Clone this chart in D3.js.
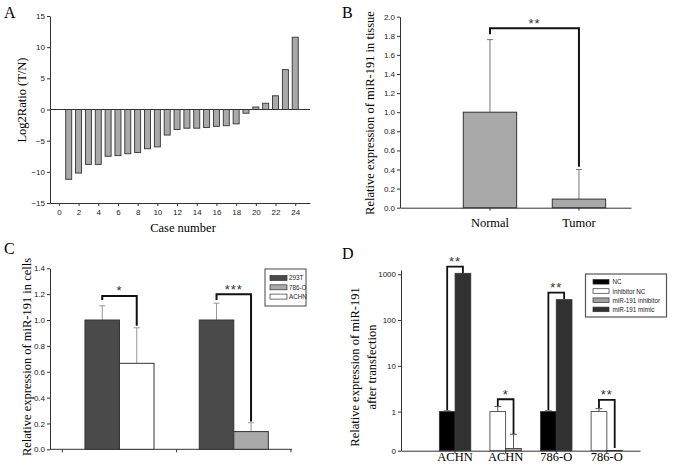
<!DOCTYPE html>
<html>
<head>
<meta charset="utf-8">
<script src="https://cdn.jsdelivr.net/npm/d3@7"></script>
<style>
  body { margin: 0; background: #fff; }
  svg { display: block; }
</style>
</head>
<body>
<div id="fig"></div>
<script>
// ---- Panel A: log2 ratio per case ----
const caseNumbers = [1, 2, 3, 4, 5, 6, 7, 8, 9, 10, 11, 12, 13, 14, 15, 16, 17, 18, 19, 20, 21, 22, 23, 24];
const log2Ratio = [-11.2, -10.2, -8.8, -8.8, -7.5, -7.4, -7.1, -6.9, -6.3, -6.0, -4.1, -3.2,
                   -3.0, -3.0, -2.9, -2.7, -2.6, -2.3, -0.6, 0.4, 1.0, 2.2, 6.4, 11.6];
const caseTicks = [0, 2, 4, 6, 8, 10, 12, 14, 16, 18, 20, 22, 24];
const ratioTicks = [-15, -10, -5, 0, 5, 10, 15];

// ---- Panel B: tissue ----
const tissueGroups = ["Normal", "Tumor"];
const tissueMean = [1.0, 0.09];
const tissueUpper = [1.76, 0.40];
const tissueTicks = [0, 0.2, 0.4, 0.6, 0.8, 1.0, 1.2, 1.4, 1.6, 1.8, 2.0];
const tissueBracket = [1.878, 1.815, 0.43]; // top, left end, right end
const tissueStars = "**";

// ---- Panel C: cell lines ----
const cellSeries = ["293T", "786-O", "ACHN"];
const cellGroups = ["ACHN vs 293T", "786-O vs 293T"];
const cellBars = [["293T", "ACHN"], ["293T", "786-O"]];
const cellMean = [[1.0, 0.665], [1.0, 0.137]];
const cellUpper = [[1.11, 0.94], [1.13, 0.205]];
const cellTicks = [0, 0.2, 0.4, 0.6, 0.8, 1.0, 1.2, 1.4];
const cellBracket = [[1.186, 1.155, 0.955], [1.199, 1.155, 0.215]];
const cellStars = ["*", "***"];

// ---- Panel D: after transfection (log axis) ----
const txSeries = ["NC", "inhibitor NC", "miR-191 inhibitor", "miR-191 mimic"];
const txGroups = ["ACHN", "ACHN", "786-O", "786-O"];
const txBars = [["NC", "miR-191 mimic"], ["inhibitor NC", "miR-191 inhibitor"],
                ["NC", "miR-191 mimic"], ["inhibitor NC", "miR-191 inhibitor"]];
const txMean = [[1.0, 1050], [1.0, 0.157], [1.0, 279], [1.0, 0.142]];
const txUpper = [[1.04, null], [1.29, 0.32], [1.04, null], [1.16, null]];
const txTicks = [0.14, 1, 10, 100, 1000];
const txTickLabels = ["0", "1", "10", "100", "1000"];
const txBracket = [[1466, 1.09, 1070], [1.86, 1.33, 0.326], [396, 1.09, 290], [1.8, 1.2, 0.16]];
const txStars = ["**", "*", "**", "**"];

const serif = '"Liberation Serif", "Times New Roman", serif';
const sans = '"Liberation Sans", Arial, sans-serif';

const svg = d3.select("#fig").append("svg")
    .attr("width", 677)
    .attr("height", 474)
    .attr("viewBox", [0, 0, 677, 474]);

function styleAxis(g) {
    g.selectAll("path, line").attr("stroke", "#333");
    g.selectAll("text").style("font", `8px ${sans}`).attr("fill", "#222");
}

function panelLetter(t, x, y) {
    svg.append("text").attr("x", x).attr("y", y)
        .style("font", `16px ${serif}`).text(t);
}

function yTitle(lines, x, y) {
    const t = svg.append("text")
        .attr("transform", `translate(${x},${y}) rotate(-90)`)
        .attr("text-anchor", "middle")
        .style("font", `12.5px ${serif}`);
    lines.forEach((l, i) => t.append("tspan").attr("x", 0).attr("dy", i ? 16.5 : 0).text(l));
}

function bracket(x1, x2, yTop, yL, yR, stars, width) {
    svg.append("path")
        .attr("d", `M${x1},${yL}V${yTop}H${x2}V${yR}`)
        .attr("fill", "none").attr("stroke", "#111").attr("stroke-width", width);
    svg.append("text")
        .attr("x", (x1 + x2) / 2).attr("y", yTop - 0.5)
        .attr("text-anchor", "middle")
        .style("font", `13px ${sans}`).style("letter-spacing", "1px")
        .attr("fill", "#333")
        .text(stars);
}

function errBar(x, y0, y1, cap, color) {
    svg.append("path")
        .attr("d", `M${x},${y0}V${y1}M${x - cap / 2},${y1}H${x + cap / 2}`)
        .attr("fill", "none").attr("stroke", color).attr("stroke-width", 1);
}

// ================= Panel A =================
{
    const x = d3.scaleLinear().domain([-0.9, 25.5]).range([50, 310]);
    const y = d3.scaleLinear().domain([-15, 15]).range([203, 16]);

    svg.append("g")
        .attr("transform", `translate(0,${y(-15)})`)
        .call(d3.axisBottom(x).tickValues(caseTicks).tickSize(3).tickSizeOuter(0).tickPadding(3))
        .call(styleAxis);
    svg.append("g")
        .attr("transform", `translate(${x.range()[0]},0)`)
        .call(d3.axisLeft(y).tickValues(ratioTicks).tickSize(3).tickSizeOuter(0).tickPadding(2))
        .call(styleAxis);

    svg.append("g").selectAll("rect")
        .data(caseNumbers)
        .join("rect")
        .attr("x", d => x(d) - 3)
        .attr("width", 6)
        .attr("y", (d, i) => Math.min(y(log2Ratio[i]), y(0)))
        .attr("height", (d, i) => Math.abs(y(log2Ratio[i]) - y(0)))
        .attr("fill", "#a9a9a9")
        .attr("stroke", "#333")
        .attr("stroke-width", 0.9);

    svg.append("line")
        .attr("x1", x.range()[0]).attr("x2", x.range()[1])
        .attr("y1", y(0)).attr("y2", y(0))
        .attr("stroke", "#333");

    svg.append("text")
        .attr("x", 183).attr("y", 232)
        .attr("text-anchor", "middle")
        .style("font", `12.5px ${serif}`)
        .text("Case number");
    yTitle(["Log2Ratio (T/N)"], 26, 100);
    panelLetter("A", 4, 18);
}

// ================= Panel B =================
{
    const x = d3.scaleBand().domain(tissueGroups).range([400, 631])
        .paddingInner(0.4).paddingOuter(0.498).align(0.714);
    const y = d3.scaleLinear().domain([0, 2]).range([207.7, 16.7]);

    svg.append("g")
        .attr("transform", `translate(0,${y(0)})`)
        .call(d3.axisBottom(x).tickSize(3).tickSizeOuter(0).tickFormat(""))
        .call(styleAxis);
    svg.append("g")
        .attr("transform", `translate(${x.range()[0]},0)`)
        .call(d3.axisLeft(y).tickValues(tissueTicks).tickFormat(d3.format(".1f")).tickSize(3).tickSizeOuter(0).tickPadding(2))
        .call(styleAxis);

    tissueGroups.forEach((g, i) => {
        const cx = x(g) + x.bandwidth() / 2;
        errBar(cx, y(tissueMean[i]), y(tissueUpper[i]), 6, "#777");
    });

    svg.append("g").selectAll("rect")
        .data(tissueGroups)
        .join("rect")
        .attr("x", d => x(d))
        .attr("width", x.bandwidth())
        .attr("y", (d, i) => y(tissueMean[i]))
        .attr("height", (d, i) => y(0) - y(tissueMean[i]))
        .attr("fill", "#a9a9a9")
        .attr("stroke", "#333");

    svg.append("g").selectAll("text")
        .data(tissueGroups)
        .join("text")
        .attr("x", d => x(d) + x.bandwidth() / 2)
        .attr("y", 227)
        .attr("text-anchor", "middle")
        .style("font", `12.5px ${serif}`)
        .text(d => d);

    const c1 = x(tissueGroups[0]) + x.bandwidth() / 2;
    const c2 = x(tissueGroups[1]) + x.bandwidth() / 2;
    bracket(c1, c2, y(tissueBracket[0]), y(tissueBracket[1]), y(tissueBracket[2]), tissueStars, 2);

    yTitle(["Relative expression of miR-191 in tissue"], 374, 113);
    panelLetter("B", 342, 18);
}

// ================= Panel C =================
{
    const color = d3.scaleOrdinal().domain(cellSeries).range(["#4a4a4a", "#a9a9a9", "#ffffff"]);
    const x = d3.scaleBand().domain(cellGroups).range([50, 292])
        .paddingInner(0.396).paddingOuter(0.2566).align(0.596);
    const sub = d3.scaleBand().domain([0, 1]).range([0, x.bandwidth()]);
    const y = d3.scaleLinear().domain([0, 1.4]).range([449.3, 268.3]);

    // x axis with ticks at the category boundaries
    const gap = x.step() * x.paddingInner() / 2;
    const bounds = cellGroups.map(g => x(g) - gap).concat([x(cellGroups[1]) + x.bandwidth() + gap]);
    svg.append("line")
        .attr("x1", x.range()[0]).attr("x2", x.range()[1])
        .attr("y1", y(0)).attr("y2", y(0)).attr("stroke", "#333");
    svg.append("g").selectAll("line")
        .data(bounds)
        .join("line")
        .attr("x1", d => d).attr("x2", d => d)
        .attr("y1", y(0)).attr("y2", y(0) + 3)
        .attr("stroke", "#333");

    svg.append("g")
        .attr("transform", `translate(${x.range()[0]},0)`)
        .call(d3.axisLeft(y).tickValues(cellTicks).tickFormat(d3.format(".1f")).tickSize(3).tickSizeOuter(0).tickPadding(2))
        .call(styleAxis);

    cellGroups.forEach((g, gi) => {
        cellBars[gi].forEach((s, bi) => {
            const bx = x(g) + sub(bi);
            errBar(bx + sub.bandwidth() / 2, y(cellMean[gi][bi]), y(cellUpper[gi][bi]), 6, "#999");
        });
        svg.append("g").selectAll("rect")
            .data(cellBars[gi])
            .join("rect")
            .attr("x", (s, bi) => x(g) + sub(bi))
            .attr("width", sub.bandwidth())
            .attr("y", (s, bi) => y(cellMean[gi][bi]))
            .attr("height", (s, bi) => y(0) - y(cellMean[gi][bi]))
            .attr("fill", s => color(s))
            .attr("stroke", "#333");
        const b = cellBracket[gi];
        bracket(x(g) + sub(0) + sub.bandwidth() / 2, x(g) + sub(1) + sub.bandwidth() / 2,
            y(b[0]), y(b[1]), y(b[2]), cellStars[gi], 2);
    });

    // legend
    const lg = svg.append("g").attr("transform", "translate(265,269)");
    lg.append("rect").attr("width", 41).attr("height", 37)
        .attr("fill", "#fff").attr("stroke", "#666").attr("stroke-width", 1.2);
    cellSeries.forEach((s, i) => {
        lg.append("rect").attr("x", 5).attr("y", 6.5 + i * 9.3).attr("width", 17).attr("height", 5)
            .attr("fill", color(s)).attr("stroke", "#333").attr("stroke-width", 0.7);
        lg.append("text").attr("x", 24).attr("y", 11.3 + i * 9.3)
            .style("font", `6.3px ${sans}`).attr("fill", "#222").text(s);
    });

    yTitle(["Relative expression of miR-191 in cells"], 31, 357);
    panelLetter("C", 4, 254);
}

// ================= Panel D =================
{
    const color = d3.scaleOrdinal().domain(txSeries).range(["#000000", "#ffffff", "#a0a0a0", "#313131"]);
    const idx = txGroups.map((d, i) => i);
    const x = d3.scaleBand().domain(idx).range([401, 640])
        .paddingInner(0.378).paddingOuter(0.551).align(0.6875);
    const sub = d3.scaleBand().domain([0, 1]).range([0, x.bandwidth()]);
    const y = d3.scaleLog().domain([0.14, 1240]).range([450.7, 270]);

    svg.append("g")
        .attr("transform", `translate(0,${y.range()[0]})`)
        .call(d3.axisBottom(x).tickSize(3).tickSizeOuter(0).tickFormat(""))
        .call(styleAxis);
    svg.append("g")
        .attr("transform", `translate(${x.range()[0]},0)`)
        .call(d3.axisLeft(y).tickValues(txTicks).tickFormat(d => txTickLabels[txTicks.indexOf(d)]).tickSize(3).tickSizeOuter(0).tickPadding(2))
        .call(styleAxis);

    svg.append("g").selectAll("text")
        .data(idx)
        .join("text")
        .attr("x", d => x(d) + x.bandwidth() / 2)
        .attr("y", 461)
        .attr("text-anchor", "middle")
        .style("font", `12.5px ${serif}`)
        .text(d => txGroups[d]);

    idx.forEach(gi => {
        txBars[gi].forEach((s, bi) => {
            if (txUpper[gi][bi] != null)
                errBar(x(gi) + sub(bi) + sub.bandwidth() / 2, y(txMean[gi][bi]), y(txUpper[gi][bi]), 7, "#555");
        });
        svg.append("g").selectAll("rect")
            .data(txBars[gi])
            .join("rect")
            .attr("x", (s, bi) => x(gi) + sub(bi))
            .attr("width", sub.bandwidth())
            .attr("y", (s, bi) => y(txMean[gi][bi]))
            .attr("height", (s, bi) => y.range()[0] - y(txMean[gi][bi]))
            .attr("fill", s => color(s))
            .attr("stroke", "#333")
            .attr("stroke-width", 0.8);
        const b = txBracket[gi];
        bracket(x(gi) + sub(0) + sub.bandwidth() / 2, x(gi) + sub(1) + sub.bandwidth() / 2,
            y(b[0]), y(b[1]), y(b[2]), txStars[gi], 1.8);
    });

    // legend
    const lg = svg.append("g").attr("transform", "translate(585.5,274)");
    lg.append("rect").attr("width", 81).attr("height", 43)
        .attr("fill", "#fff").attr("stroke", "#555").attr("stroke-width", 1.2);
    txSeries.forEach((s, i) => {
        lg.append("rect").attr("x", 7.5).attr("y", 5.5 + i * 9.2).attr("width", 16).attr("height", 4.6)
            .attr("fill", color(s)).attr("stroke", "#333").attr("stroke-width", 0.7);
        lg.append("text").attr("x", 27).attr("y", 10.3 + i * 9.2)
            .style("font", `6.3px ${sans}`).attr("fill", "#222").text(s);
    });

    yTitle(["Relative expression of miR-191", "after transfection"], 359, 367);
    panelLetter("D", 342, 259);
}
</script>
</body>
</html>
